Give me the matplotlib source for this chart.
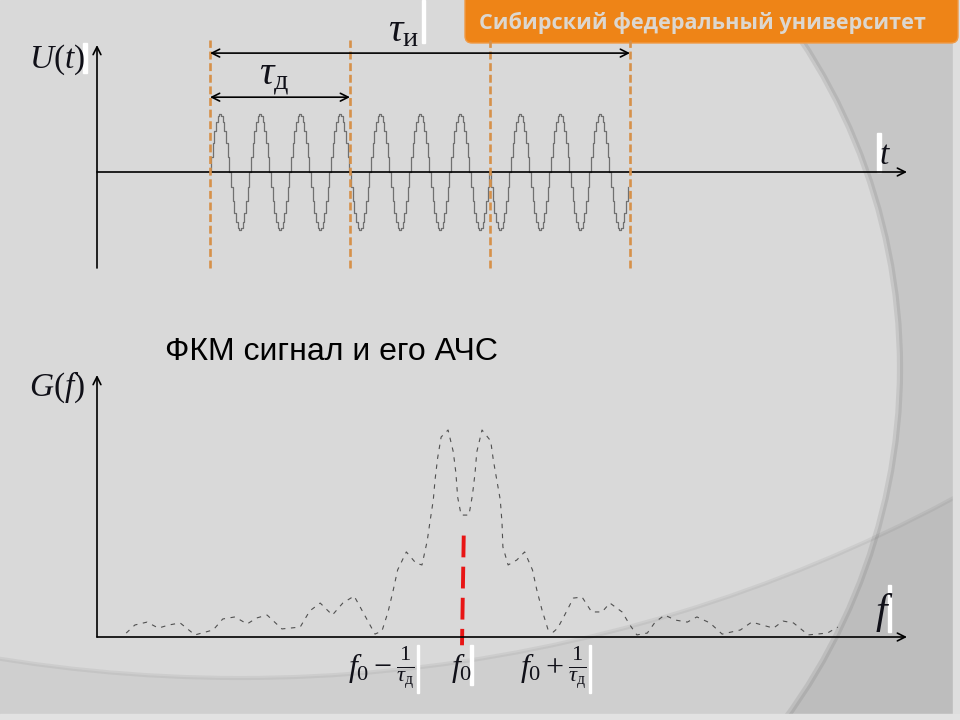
import numpy as np
import matplotlib
matplotlib.use('Agg')
import matplotlib.pyplot as plt
from matplotlib.patches import Rectangle, Wedge, Circle, FancyBboxPatch

plt.rcParams['mathtext.fontset'] = 'custom'
plt.rcParams['mathtext.rm'] = 'Liberation Serif'
plt.rcParams['mathtext.it'] = 'Liberation Serif:italic'
plt.rcParams['mathtext.bf'] = 'Liberation Serif:bold'

# --- data ---
# phase code of the three chips as signs, 3.5 carrier periods per chip
chip_code = [1, 1, -1]
chip_edges = [0, 1, 2, 3]          # t / tau_d
periods_per_chip = 3.5
# staircase levels of one carrier period (24 steps)
carrier_levels = [0.0, 0.26, 0.5, 0.71, 0.87, 0.97, 1.0, 0.97, 0.87, 0.71, 0.5, 0.26,
                  0.0, -0.26, -0.5, -0.71, -0.87, -0.97, -1.0, -0.97, -0.87, -0.71,
                  -0.5, -0.26]

# spectrum G(f), f as (f - f0) * tau_d, G normalised to main peaks
spec_df = [-3.86, -3.76, -3.62, -3.49, -3.37, -3.24, -3.07, -2.86, -2.75, -2.61,
           -2.47, -2.36, -2.24, -2.07, -1.86, -1.75, -1.63, -1.49, -1.37, -1.24,
           -1.12, -1.00, -0.92, -0.85, -0.79, -0.74, -0.64, -0.53, -0.46, -0.40,
           -0.37, -0.33, -0.31, -0.28, -0.24, -0.16, -0.10, -0.07, -0.05, -0.01,
           0.08, 0.12, 0.15, 0.17, 0.23, 0.33, 0.36, 0.40, 0.44, 0.46,
           0.47, 0.53, 0.63, 0.72, 0.81, 0.86, 0.92, 0.99, 1.05, 1.10,
           1.18, 1.28, 1.38, 1.49, 1.61, 1.70, 1.84, 1.93, 2.01, 2.13,
           2.22, 2.33, 2.45, 2.59, 2.70, 2.85, 2.99, 3.20, 3.33, 3.45,
           3.58, 3.69, 3.81, 3.98, 4.20, 4.32]
spec_g = [0.019, 0.058, 0.072, 0.043, 0.058, 0.068, 0.010, 0.034, 0.087, 0.097,
          0.063, 0.092, 0.106, 0.039, 0.048, 0.126, 0.164, 0.106, 0.164, 0.198,
          0.106, 0.014, 0.029, 0.121, 0.227, 0.324, 0.411, 0.357, 0.348, 0.464,
          0.551, 0.662, 0.758, 0.865, 0.966, 1.000, 0.894, 0.792, 0.676, 0.589,
          0.589, 0.686, 0.792, 0.894, 1.000, 0.947, 0.855, 0.758, 0.662, 0.551,
          0.435, 0.348, 0.372, 0.411, 0.324, 0.227, 0.130, 0.034, 0.024, 0.043,
          0.106, 0.188, 0.193, 0.121, 0.121, 0.164, 0.121, 0.058, 0.010, 0.019,
          0.072, 0.106, 0.082, 0.072, 0.097, 0.068, 0.014, 0.034, 0.072, 0.058,
          0.043, 0.077, 0.068, 0.010, 0.019, 0.048]
f_ticks = [-1, 0, 1]
f_tick_labels = [r'$f_0 - \frac{1}{\tau_{\mathrm{д}}}$', r'$f_0$',
                 r'$f_0 + \frac{1}{\tau_{\mathrm{д}}}$']

title = 'ФКМ сигнал и его АЧС'
header = 'Сибирский федеральный университет'
ink = '#101018'

fig = plt.figure(figsize=(9.6, 7.2), dpi=100)

# --- slide background (pixel coordinates) ---
bg = fig.add_axes([0, 0, 1, 1], zorder=0)
bg.set_xlim(0, 960)
bg.set_ylim(720, 0)
bg.axis('off')
bg.add_patch(Rectangle((0, 0), 960, 720, color='#d9d9d9', zorder=0))
bg.add_patch(Wedge((306, 368), 2500, 0, 360, width=2500 - 594,
                   color='black', alpha=0.085, lw=0, zorder=1))
bg.add_patch(Wedge((240, -827), 3500, 0, 360, width=3500 - 1505,
                   color='black', alpha=0.045, lw=0, zorder=1))
bg.add_patch(Circle((306, 368), 594, fill=False, ec='black', alpha=0.08,
                    lw=4.5, zorder=2))
bg.add_patch(Circle((240, -827), 1505, fill=False, ec='black', alpha=0.05,
                    lw=3, zorder=2))
bg.add_patch(Rectangle((953, 0), 7, 720, color='#dedede', zorder=3))
bg.add_patch(Rectangle((0, 714), 960, 6, color='#e2e2e2', zorder=3))

# header bar
bg.add_patch(FancyBboxPatch((465, -20), 493, 63,
                            boxstyle='round,pad=0,rounding_size=7',
                            fc='#ee8417', ec='#f09a45', lw=1, zorder=4))
bg.text(479, 23, header, fontsize=15.6, fontweight='bold', family='Open Sans',
        color='#dcd7d0', va='center', ha='left', zorder=5)

bg.text(165, 352, title, fontsize=23, family='Liberation Sans',
        color='black', va='center', ha='left', zorder=5)

# white strips next to pasted formula images
for x0, y0, w, h in [(83, 43, 4, 30), (422, 0, 3, 43), (877, 133, 4, 39),
                     (888, 585, 3, 47), (417, 645, 2, 48), (470, 645, 3, 40),
                     (589, 645, 2, 48)]:
    bg.add_patch(Rectangle((x0, y0), w, h, color='white', zorder=6))

# --- upper plot: U(t) ---
ax = fig.add_axes([97 / 960, 1 - 268 / 720, 810 / 960, 223 / 720], zorder=2)
ax.patch.set_visible(False)
ax.axis('off')
ax.set_xlim(-113 / 140, 697 / 140)
ax.set_ylim(-96 / 58, 127 / 58)

n_chip = int(len(carrier_levels) * periods_per_chip)
n_total = n_chip * len(chip_code)
reps = int(np.ceil(n_total / len(carrier_levels)))
u = np.tile(carrier_levels, reps)[:n_total] * np.repeat(chip_code, n_chip)
t = np.arange(n_total) / n_chip
ax.plot(t, u, drawstyle='steps-mid', color='#707070', lw=0.9)

x0, x1 = ax.get_xlim()
y0, y1 = ax.get_ylim()
arrow = dict(arrowstyle='->', lw=1.2, color='black', shrinkA=0, shrinkB=0,
             mutation_scale=14)
ax.annotate('', xy=(x1, 0), xytext=(x0, 0), arrowprops=arrow)
ax.annotate('', xy=(x0, y1), xytext=(x0, y0), arrowprops=arrow)

for e in chip_edges:
    ax.plot([e, e], [y0, 2.28], color='#d6914a', lw=1.9, dashes=(3, 1.4),
            clip_on=False, zorder=3)

two_arrow = dict(arrowstyle='<->', lw=1.2, color='black', shrinkA=0, shrinkB=0,
                 mutation_scale=14)
ax.annotate('', xy=(chip_edges[-1], 2.05), xytext=(chip_edges[0], 2.05),
            arrowprops=two_arrow, annotation_clip=False)
ax.annotate('', xy=(chip_edges[1], 1.29), xytext=(chip_edges[0], 1.29),
            arrowprops=two_arrow, annotation_clip=False)
ax.text(1.38, 2.45, r'$\tau_{\mathrm{и}}$', fontsize=29, color=ink,
        ha='center', va='center', clip_on=False)
ax.text(0.46, 1.62, r'$\tau_{\mathrm{д}}$', fontsize=29, color=ink,
        ha='center', va='center', clip_on=False)
ax.text(-1.09, 1.93, r'$U(t)$', fontsize=24, color=ink,
        ha='center', va='center', clip_on=False)
ax.text(4.82, 0.30, r'$t$', fontsize=24, color=ink,
        ha='center', va='center', clip_on=False)

# --- lower plot: G(f) ---
ax2 = fig.add_axes([97 / 960, 1 - 637 / 720, 810 / 960, 262 / 720], zorder=2)
ax2.patch.set_visible(False)
ax2.axis('off')
ax2.set_xlim((97 - 462) / 87, (907 - 462) / 87)
ax2.set_ylim(0, 262 / 207)

ax2.plot(spec_df, spec_g, color='#505050', lw=0.8, dashes=(4, 5))
ax2.plot([0.02, 0], [0.49, -0.04], color='#e81515', lw=2.8, dashes=(5.6, 2.4),
         clip_on=False, zorder=3)

fx0, fx1 = ax2.get_xlim()
fy0, fy1 = ax2.get_ylim()
ax2.annotate('', xy=(fx1, 0), xytext=(fx0, 0), arrowprops=arrow)
ax2.annotate('', xy=(fx0, fy1), xytext=(fx0, fy0), arrowprops=arrow)

for ft, lab, dx in zip(f_ticks, f_tick_labels, [0.07, 0.0, 0.05]):
    ax2.text(ft + dx, -0.15, lab, fontsize=23, color=ink,
             ha='center', va='center', clip_on=False)
ax2.text(-4.66, 1.205, r'$G(f)$', fontsize=24, color=ink,
         ha='center', va='center', clip_on=False)
ax2.text(4.85, 0.12, r'$f$', fontsize=30, color=ink,
         ha='center', va='center', clip_on=False)

fig.savefig('out.png', dpi=100)
